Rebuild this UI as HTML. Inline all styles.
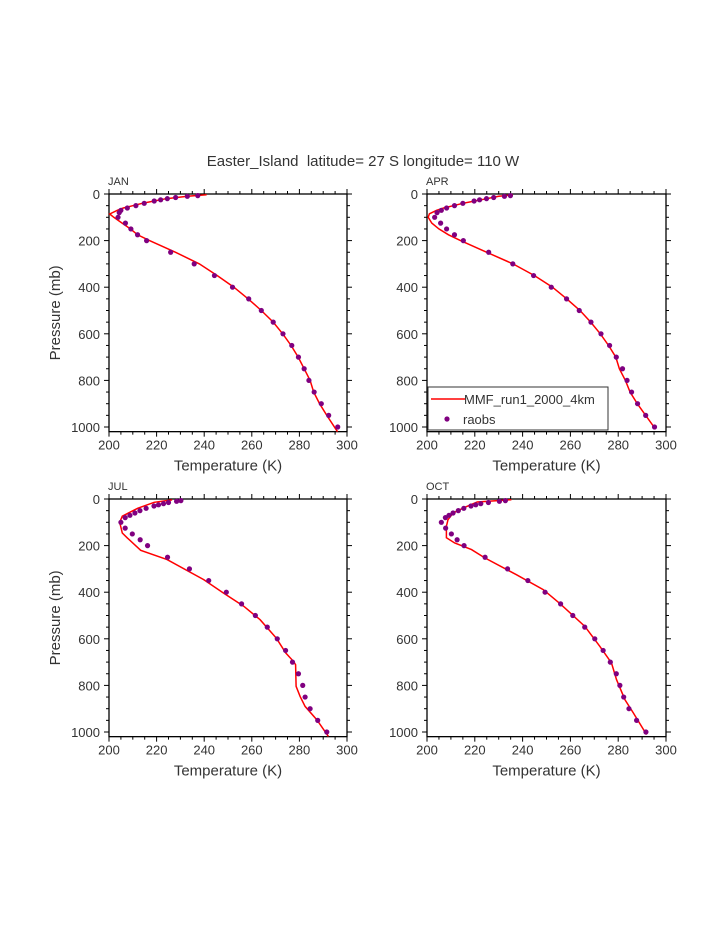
<!DOCTYPE html>
<html><head><meta charset="utf-8"><style>
body{margin:0;background:#fff;}
svg{display:block;font-family:"Liberation Sans",sans-serif;}
</style></head><body>
<svg id="chart" width="723" height="935" viewBox="0 0 723 935" xmlns="http://www.w3.org/2000/svg">
<text x="363" y="166" font-size="15" text-anchor="middle" fill="#333" style="white-space:pre" xml:space="preserve">Easter_Island  latitude= 27 S longitude= 110 W</text>
</svg>
<script>
const obsP=[7,10,15,20,25,30,40,50,60,70,80,100,125,150,175,200,250,300,350,400,450,500,550,600,650,700,750,800,850,900,950,1000];
const janObsT=[237.3,232.9,228,224.5,221.7,219,214.8,211.3,207.7,205,204.3,203.8,206.9,209.2,212,215.8,225.9,235.8,244.3,251.9,258.7,264,269,273.1,276.8,279.6,282,284,286.2,289.2,292.3,296.1];
const aprObsT=[234.9,232.4,227.9,224.9,222,219.7,215,211.5,208.2,206,204.2,203.2,205.7,208.2,211.5,215.2,225.8,235.9,244.6,252,258.4,263.7,268.6,272.8,276.4,279.2,281.8,283.7,285.6,288.1,291.5,295.2];
const julObsT=[230.2,228.4,225,222.9,220.8,218.9,215.6,213,210.9,208.8,206.8,205,206.8,209.8,213.1,216.2,224.6,233.8,241.9,249.3,255.7,261.5,266.5,270.7,274.2,277.1,279.6,281.4,282.4,284.5,287.7,291.5];
const octObsT=[232.8,230.3,225.7,222.5,220.4,218.4,215.4,213.1,210.9,209.2,207.7,206,207.8,210.2,212.6,215.5,224.3,233.7,242.2,249.4,255.9,261,266,270.2,273.7,276.7,279.2,280.7,282.3,284.5,287.7,291.6];
const janLineP=[3,10,20,30,40,50,60,70,86,100,125,150,175,200,250,300,350,400,450,500,550,600,650,700,750,800,850,900,950,1020];
const janLineT=[241,233,224,219,214,210,206,203.5,200.3,202,205.5,209,212,217,228,238,245.5,252.5,258.5,264,269,273,276.5,279.5,282,284.5,286,288.5,291.5,296];
const aprLineP=[4,10,20,30,40,50,60,70,85,100,125,150,175,200,250,300,350,400,450,500,550,600,650,700,750,800,850,900,950,1000];
const aprLineT=[236,230,225,220,215,211,207,204,201,200.5,202,205,209,214,225,236,245,252.5,258.5,264,268.5,272.5,276,279,280.5,283,285,288,291.5,295];
const julLineP=[4,14,40,74,100,146,167,220,260,346,403,460,518,597,661,697,711,804,847,890,947,1019];
const julLineT=[226.5,219,212,205.6,204.5,205.6,207.7,213.3,224.4,239.8,248,256.6,263.5,270.3,274.3,277.5,278.4,278.6,280.3,282.4,287.3,292.2];
const octLineP=[3,13,34,60,89,117,166,189,217,253,325,389,449,546,632,704,775,861,918,1011];
const octLineT=[235.3,221,216.2,210.9,208.8,208.1,208.1,211.6,218.6,224.2,237.4,248.6,255.6,266,272.3,277.2,279.3,282.8,286.3,291.9];
const xTicks=[200,220,240,260,280,300];
const yTicks=[0,200,400,600,800,1000];
const panelNames=["JAN","APR","JUL","OCT"];

const NS="http://www.w3.org/2000/svg";
const svg=document.getElementById('chart');
function mk(tag,attrs,parent){const e=document.createElementNS(NS,tag);for(const k in attrs)e.setAttribute(k,attrs[k]);(parent||svg).appendChild(e);return e;}

const panels=[
 {name:panelNames[0],x0:109,x1:347,y0:194,obsT:janObsT,lp:janLineP,lt:janLineT,ylab:true},
 {name:panelNames[1],x0:427,x1:666,y0:194,obsT:aprObsT,lp:aprLineP,lt:aprLineT,ylab:false,legend:true},
 {name:panelNames[2],x0:109,x1:347,y0:499,obsT:julObsT,lp:julLineP,lt:julLineT,ylab:true},
 {name:panelNames[3],x0:427,x1:666,y0:499,obsT:octObsT,lp:octLineP,lt:octLineT,ylab:false}
];
const PMAX=1020, PXPER=0.233;
panels.forEach(pn=>{
 const g=mk('g',{});
 
 
 const X=t=>pn.x0+(t-200)/100*(pn.x1-pn.x0);
 const Y=p=>pn.y0+p*PXPER;
 const yb=Y(PMAX);
 const box=mk('rect',{x:pn.x0,y:pn.y0,width:pn.x1-pn.x0,height:yb-pn.y0,fill:'none',stroke:'#000','stroke-width':1.3},g);
 
 
 for(let t=200;t<=300;t+=5){
  const maj=(t%20===0);const L=maj?5:3;
  mk('line',{x1:X(t),x2:X(t),y1:yb,y2:yb+L,stroke:'#000','stroke-width':1},g);
  mk('line',{x1:X(t),x2:X(t),y1:pn.y0,y2:pn.y0-L,stroke:'#000','stroke-width':1},g);
 }
 xTicks.forEach(t=>{
  const tx=mk('text',{x:X(t),y:yb+18,'font-size':13,'text-anchor':'middle',fill:'#333'},g);
  tx.textContent=t;
  
  
 });
 for(let p=0;p<=1000;p+=50){
  const maj=(p%200===0);const L=maj?5:3;
  mk('line',{x1:pn.x0,x2:pn.x0-L,y1:Y(p),y2:Y(p),stroke:'#000','stroke-width':1},g);
  mk('line',{x1:pn.x1,x2:pn.x1+L,y1:Y(p),y2:Y(p),stroke:'#000','stroke-width':1},g);
 }
 yTicks.forEach(p=>{
  const tx=mk('text',{x:pn.x0-9,y:Y(p)+5,'font-size':13,'text-anchor':'end',fill:'#333'},g);
  tx.textContent=p;
  
  
 });
 const xl=mk('text',{x:(pn.x0+pn.x1)/2,y:yb+39,'font-size':15,'text-anchor':'middle',fill:'#333'},g);
 xl.textContent='Temperature (K)';
 
 
 if(pn.ylab){
  const yc=(pn.y0+yb)/2;
  const yl=mk('text',{x:60,y:yc,'font-size':15,'text-anchor':'middle',fill:'#333',transform:'rotate(-90 60 '+yc+')'},g);
  yl.textContent='Pressure (mb)';
  
  
 }
 const nl=mk('text',{x:pn.x0-1,y:pn.y0-9,'font-size':11,fill:'#333'},g);
 nl.textContent=pn.name;
 
 
 const d=pn.lp.map((p,i)=>(i?'L':'M')+X(pn.lt[i]).toFixed(1)+' '+Y(p).toFixed(1)).join(' ');
 const ln=mk('path',{d:d,fill:'none',stroke:'#ff0000','stroke-width':1.5},g);
 
 
 obsP.forEach((p,i)=>{
  const c=mk('circle',{cx:X(pn.obsT[i]),cy:Y(p),r:2.6,fill:'#800080'},g);
  
  
 });
 if(pn.legend){
  const lg=mk('g',{},g);
  
  
  mk('rect',{x:428,y:387,width:180,height:43,fill:'#fff',stroke:'#333','stroke-width':1},lg);
  mk('line',{x1:431,x2:465,y1:399,y2:399,stroke:'#ff0000','stroke-width':1.5},lg);
  const t1=mk('text',{x:464,y:404,'font-size':13,fill:'#333'},lg);
  t1.textContent='MMF_run1_2000_4km';
  
  
  mk('circle',{cx:447,cy:419,r:2.6,fill:'#800080'},lg);
  const t2=mk('text',{x:463,y:424,'font-size':13,fill:'#333'},lg);
  t2.textContent='raobs';
  
  
 }
});
</script>
</body></html>
